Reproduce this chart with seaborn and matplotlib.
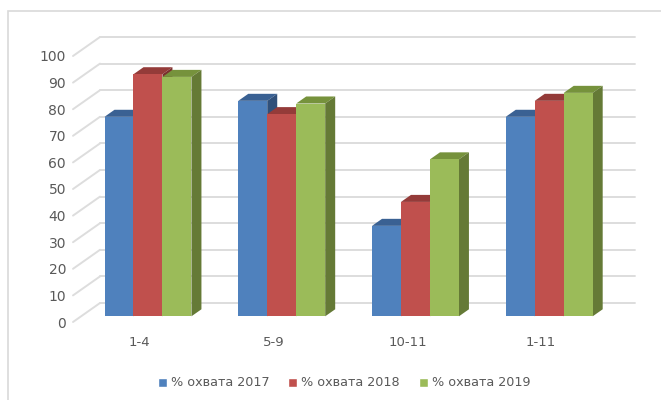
import matplotlib
matplotlib.use("Agg")
import matplotlib.pyplot as plt
import seaborn as sns
import pandas as pd
from matplotlib.patches import Polygon, Rectangle

categories = ["1-4", "5-9", "10-11", "1-11"]
series = ["% охвата 2017", "% охвата 2018", "% охвата 2019"]
v2017 = [75, 81, 34, 75]
v2018 = [91, 76, 43, 81]
v2019 = [90, 80, 59, 84]
y_ticks = [0, 10, 20, 30, 40, 50, 60, 70, 80, 90, 100]

colors = ["#4F81BD", "#C0504D", "#9BBB59"]
caps = ["#3A6193", "#943B39", "#76923C"]
sides = ["#30507A", "#7A302E", "#657A36"]

df = pd.DataFrame({
    "cat": categories * 3,
    "series": [s for s in series for _ in categories],
    "value": v2017 + v2018 + v2019,
})

sns.set_theme(style="white")
plt.rcParams["font.family"] = ["DejaVu Sans"]

fig = plt.figure(figsize=(6.61, 4.0), dpi=100)
ax = fig.add_axes([73 / 661, 78 / 400, 535 / 661, 266 / 400])

sns.barplot(data=df, x="cat", y="value", hue="series", order=categories,
            hue_order=series, palette=colors, width=0.65, gap=0,
            saturation=1, ax=ax, legend=False)

ax.set_xlim(-0.5, 3.5)
ax.set_ylim(0, 100)

# depth of the floor (3D look)
dx = 0.2019
dy = 7.14
bx, by = 0.3 * dx, 0.3 * dy     # bar front plane
cx, cy = 0.37 * dx, 0.37 * dy   # bar depth

grid_c = "#DDDDDD"
for v in y_ticks:
    ax.plot([-0.5 + dx, 3.5 + dx], [v + dy, v + dy], color=grid_c, lw=1.4,
            zorder=0, clip_on=False)
    ax.plot([-0.5, -0.5 + dx], [v, v + dy], color=grid_c, lw=1.4,
            zorder=0, clip_on=False)

bars = list(ax.patches)
for i, p in enumerate(bars):
    k = i // len(categories)
    x = p.get_x() + bx
    w = p.get_width()
    h = p.get_height()
    y = by
    p.set_x(x)
    p.set_y(y)
    p.set_edgecolor("none")
    p.set_linewidth(0)
    z = 2 + x * 3
    p.set_zorder(z + 0.2)
    top = Polygon([(x, y + h), (x + w, y + h), (x + w + cx, y + h + cy),
                   (x + cx, y + h + cy)], closed=True, facecolor=caps[k],
                  edgecolor="none", zorder=z, clip_on=False)
    side = Polygon([(x + w, y), (x + w + cx, y + cy), (x + w + cx, y + h + cy),
                    (x + w, y + h)], closed=True, facecolor=sides[k],
                   edgecolor="none", zorder=z, clip_on=False)
    ax.add_patch(top)
    ax.add_patch(side)
    p.set_clip_on(False)

for s in ax.spines.values():
    s.set_visible(False)
ax.set_yticks(y_ticks)
ax.set_xlabel("")
ax.set_ylabel("")
ax.tick_params(axis="y", length=0, pad=5, labelsize=10, labelcolor="#595959")
ax.tick_params(axis="x", length=0, pad=10, labelsize=9.5, labelcolor="#595959")
ax.grid(False)

handles = [Rectangle((0, 0), 1, 1, facecolor=c) for c in colors]
fig.legend(handles, series, loc="center", bbox_to_anchor=(344 / 661, 1 - 383 / 400),
           ncol=3, frameon=False, fontsize=9.2, handlelength=0.7, handleheight=0.7,
           handletextpad=0.3, columnspacing=1.5, labelcolor="#595959")

fig.patches.append(Rectangle((8 / 661, -0.1), 1.2, 1 - 11 / 400 + 0.1,
                             transform=fig.transFigure, fill=False,
                             edgecolor="#D9D9D9", lw=1.2))

fig.savefig("out.png", dpi=100)
